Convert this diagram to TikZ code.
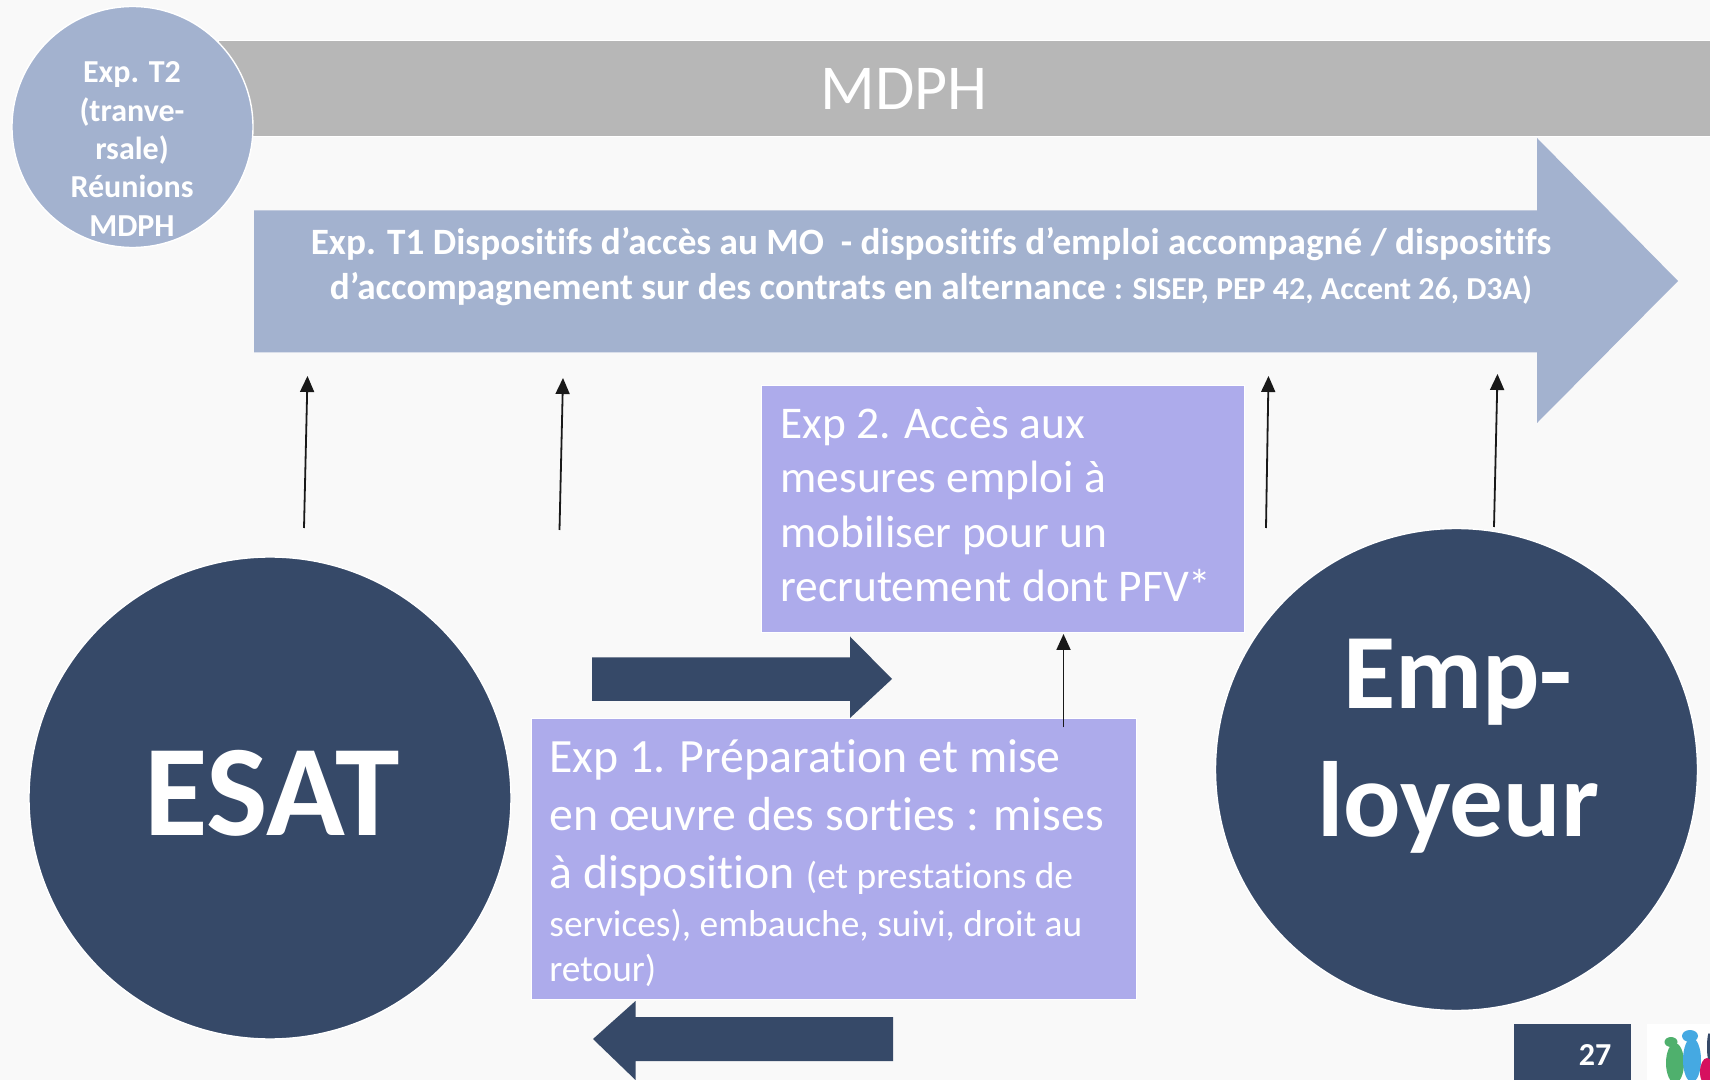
\documentclass[tikz,border=0pt]{standalone}
\usepackage{fontspec}
\usetikzlibrary{arrows.meta}
\setmainfont{Carlito}[Ligatures=NoCommon]
\definecolor{pagebg}{HTML}{F9F9F9}
\definecolor{navy}{HTML}{364968}
\definecolor{steel}{HTML}{A3B2CF}
\definecolor{lilac}{HTML}{ADABEB}
\definecolor{barg}{HTML}{B7B7B7}
\definecolor{logog}{HTML}{4FB06D}
\definecolor{logob}{HTML}{45A9E2}
\definecolor{logom}{HTML}{D6105F}
\newcommand{\fsize}[2]{\fontsize{#1}{#2}\selectfont}
\begin{document}
\begin{tikzpicture}[
    x=0.5pt, y=-0.5pt,
    bigdisc/.style={circle, draw=white, line width=0.7pt, fill=navy, minimum size=241pt, inner sep=0pt, outer sep=0pt},
    smalldisc/.style={circle, draw=white, line width=0.7pt, fill=steel, minimum size=120.5pt, inner sep=0pt, outer sep=0pt},
    disclabel/.style={text=white, align=center, inner sep=0pt, font=\bfseries\fsize{16}{19.2}},
    expbox/.style={rectangle, draw=white, line width=0.5pt, fill=lilac, inner sep=0pt, outer sep=0pt, anchor=north west},
    explabel/.style={text=white, align=left, anchor=north west, inner sep=0pt},
    fatarrow/.style={fill=navy, draw=none},
    thinarrow/.style={-{Triangle[length=8pt,width=7pt]}, line width=0.9pt, color=black!90}
]

% Page
\fill[pagebg] (0,0) rectangle (1710,1080);
\useasboundingbox (0,0) rectangle (1710,1080);

% MDPH bar
\node[fill=barg, draw=white, line width=0.3pt, minimum width=746pt, minimum height=48pt, inner sep=0pt, outer sep=0pt, anchor=north west] (bar) at (218,40.5) {};
\node[text=white, font=\fsize{32}{33}] (mdph) at (904,89) {MDPH};

% Transversal disc
\node[smalldisc] (t2) at (132.5,127) {};
\node[disclabel] (t2txt) at (132,149) {Exp. T2\\(tranve-\\rsale)\\Réunions\\MDPH};

% Large arrow
\fill[steel] (254,210.5) -- (1537,210.5) -- (1537,138) -- (1678,281) -- (1537,423) -- (1537,352.5) -- (254,352.5) -- cycle;
\node[text=white, align=center, font=\bfseries\fsize{18.6}{22.5}] (t1) at (931,267) {Exp. T1 Dispositifs d’accès au MO\ \ - dispositifs d’emploi accompagné / dispositifs\\d’accompagnement sur des contrats en alternance {\fsize{16}{22.5}: SISEP, PEP 42, Accent 26, D3A)}};

% Actors
\node[bigdisc] (esat) at (270,798) {};
\node[disclabel, font=\bfseries\fsize{65}{64}] (esattxt) at (272,793) {ESAT};
\node[bigdisc] (emp) at (1456.5,769.5) {};
\node[disclabel, font=\bfseries\fsize{53.5}{64}] (emptxt) at (1458,746) {Emp-\\loyeur};

% Boxes
\node[expbox, minimum width=241.5pt, minimum height=123.5pt] (exp2) at (761,386) {};
\node[explabel, font=\fsize{22.7}{27.25}] (exp2txt) at (780,407) {Exp 2. Accès aux\\mesures emploi à\\mobiliser pour un\\recrutement dont PFV*};
\node[expbox, minimum width=302.5pt, minimum height=140.5pt] (exp1) at (531,718.5) {};
\node[explabel, font=\fsize{23.9}{29}] (exp1txt) at (549,739) {Exp 1. Préparation et mise\\en œuvre des sorties : mises\\à disposition {\fsize{18.7}{29}(et prestations de}\\[-5pt]{\fsize{18.7}{29}services), embauche, suivi, droit au}\\[-6.5pt]{\fsize{18.7}{29}retour)}};

% Fat arrows
\fill[fatarrow] (592,657.5) -- (850,657.5) -- (850,636.5) -- (892,679) -- (850,718) -- (850,701) -- (592,701) -- cycle;
\fill[fatarrow] (893,1017) -- (635.5,1017) -- (635.5,1001) -- (593,1039) -- (635.5,1080) -- (635.5,1061) -- (893,1061) -- cycle;

% Thin arrows
\coordinate (a1) at (304,528);
\coordinate (b1) at (307.5,376);
\coordinate (a2) at (559.5,530);
\coordinate (b2) at (563,378);
\coordinate (a3) at (1266,528);
\coordinate (b3) at (1268.5,376);
\coordinate (a4) at (1494,527);
\coordinate (b4) at (1497.5,374);
\coordinate (a5) at (1063.5,727.5);
\coordinate (b5) at (1063.5,634);
\foreach \i in {1,...,5} {
    \draw[thinarrow] (a\i) -- (b\i);
}

% Page number
\node[fill=navy, minimum width=58.5pt, minimum height=28pt, inner sep=0pt, outer sep=0pt, anchor=north west] (numbox) at (1514,1024) {};
\node[text=white, font=\bfseries\fsize{16}{18}] (num) at (1595,1055) {27};

% Logo
\fill[white] (1647,1024) rectangle (1710,1080);
\fill[logog] (1675,1063) ellipse (9 and 20);
\fill[logog] (1671,1042) ellipse (6.5 and 5);
\fill[logob] (1690,1036) ellipse (8 and 6);
\fill[logob] (1692,1060) ellipse (9 and 22);
\fill[navy] (1709,1047) ellipse (2 and 14);
\fill[logom] (1707,1072) ellipse (7 and 14);

\end{tikzpicture}
\end{document}
